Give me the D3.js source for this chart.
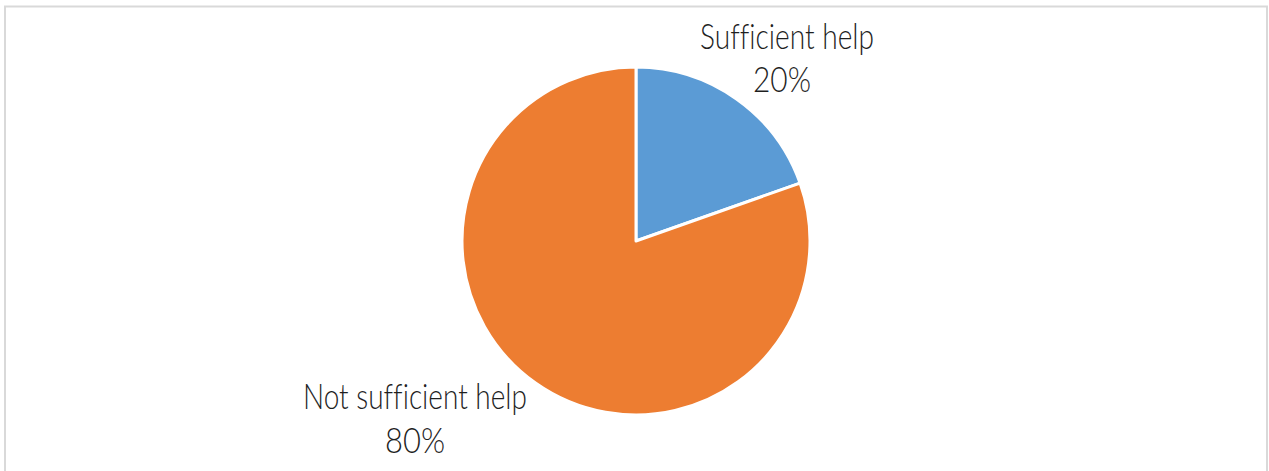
<!DOCTYPE html>
<html>
<head>
<meta charset="utf-8">
<script src="https://cdn.jsdelivr.net/npm/d3@7"></script>
<style>
  html, body { margin: 0; padding: 0; background: #fff; }
  svg { display: block; }
  text { font-variant-ligatures: none; font-feature-settings: "liga" 0, "clig" 0; }
</style>
</head>
<body>
<svg id="chart" width="1269" height="471"></svg>
<script>
const categories = ["Sufficient help", "Not sufficient help"];
const values = [19.6, 80.4];
const colors = ["#5B9BD5", "#ED7D31"];

const svg = d3.select("#chart");

svg.append("rect")
  .attr("x", 5).attr("y", 6.5)
  .attr("width", 1262).attr("height", 480)
  .attr("fill", "#fff")
  .attr("stroke", "#d9d9d9").attr("stroke-width", 2);

const cx = 636, cy = 241, r = 174;
const g = svg.append("g").attr("transform", `translate(${cx},${cy})`);

const total = d3.sum(values);
const pie = d3.pie().sort(null).value(d => d.v);
const data = categories.map((c, i) => ({ c, v: values[i], col: colors[i],
  lab: Math.round(values[i] / total * 100) + "%" }));
const arcs = pie(data);
const arc = d3.arc().innerRadius(0).outerRadius(r);

g.selectAll("path").data(arcs).enter().append("path")
  .attr("d", arc)
  .attr("fill", d => d.data.col)
  .attr("stroke", "#fff")
  .attr("stroke-width", 3)
  .attr("stroke-linejoin", "round");

const labelPos = [
  { x1: 700, w1: 174, x2: 753, w2: 58, y1: 49, y2: 92 },
  { x1: 303, w1: 224, x2: 385, w2: 60, y1: 409, y2: 453 }
];
const lab = svg.append("g")
  .attr("font-family", "Lato, 'Open Sans', sans-serif")
  .attr("font-weight", 300)
  .attr("font-size", 35)
  .attr("fill", "#1f1f1f");

arcs.forEach((a, i) => {
  const p = labelPos[i];
  lab.append("text").attr("x", p.x1).attr("y", p.y1)
    .attr("textLength", p.w1).attr("lengthAdjust", "spacingAndGlyphs")
    .text(a.data.c);
  lab.append("text").attr("x", p.x2).attr("y", p.y2)
    .attr("textLength", p.w2).attr("lengthAdjust", "spacingAndGlyphs")
    .text(a.data.lab);
});
</script>
</body>
</html>
